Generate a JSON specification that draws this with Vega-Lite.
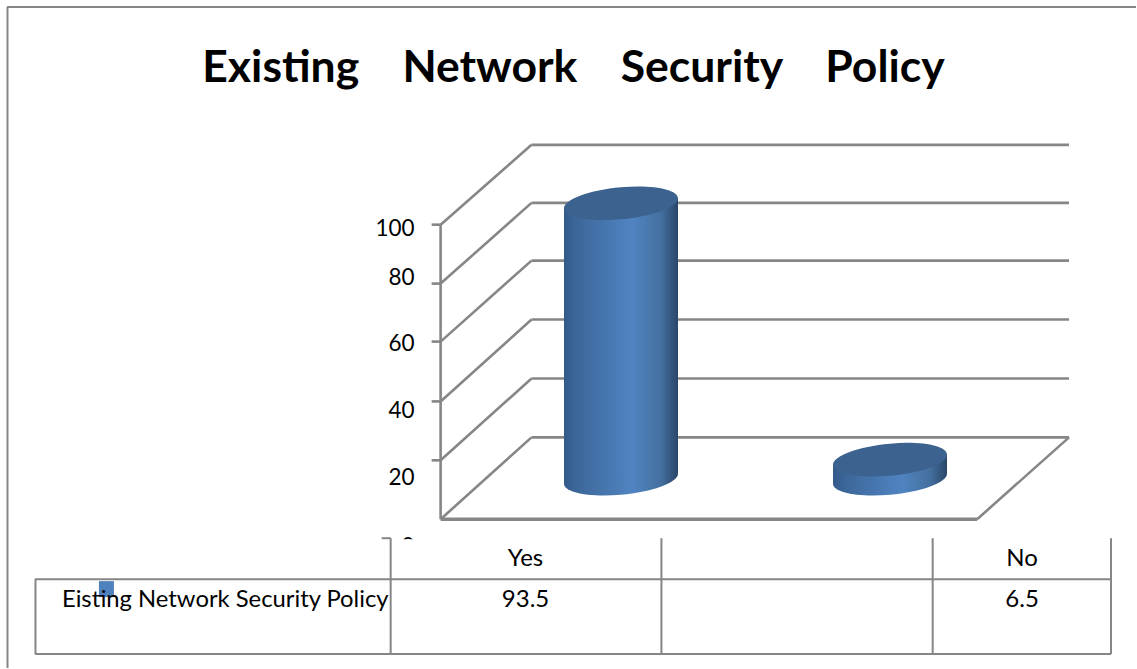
{
  "$schema": "https://vega.github.io/schema/vega-lite/v6.json",
  "width": 1137,
  "height": 669,
  "padding": 0,
  "autosize": {"type": "fit", "contains": "padding"},
  "background": "white",
  "config": {"view": {"stroke": null}, "text": {"font": "Lato"}},
  "resolve": {"scale": {"x": "independent", "y": "independent"}},
  "datasets": {
    "results": [
      {"answer": "Yes", "percent": 93.5},
      {"answer": "No", "percent": 6.5}
    ],
    "wall": [
      {"x": 441, "x2": 532, "level": 100, "level2": 127.1},
      {"x": 532, "x2": 1070, "level": 127.1, "level2": 127.1},
      {"x": 441, "x2": 532, "level": 80, "level2": 107.4},
      {"x": 532, "x2": 1070, "level": 107.4, "level2": 107.4},
      {"x": 441, "x2": 532, "level": 60.3, "level2": 87.8},
      {"x": 532, "x2": 1070, "level": 87.8, "level2": 87.8},
      {"x": 441, "x2": 532, "level": 40, "level2": 67.8},
      {"x": 532, "x2": 1070, "level": 67.8, "level2": 67.8},
      {"x": 441, "x2": 532, "level": 20, "level2": 47.8},
      {"x": 532, "x2": 1070, "level": 47.8, "level2": 47.8},
      {"x": 441, "x2": 532, "level": 0, "level2": 27.8},
      {"x": 532, "x2": 1070, "level": 27.8, "level2": 27.8},
      {"x": 978, "x2": 1070, "level": 0, "level2": 27.8},
      {"x": 441, "x2": 441, "level": 0, "level2": 100},
      {"x": 432, "x2": 441, "level": 100, "level2": 100},
      {"x": 432, "x2": 441, "level": 80, "level2": 80},
      {"x": 432, "x2": 441, "level": 60.3, "level2": 60.3},
      {"x": 432, "x2": 441, "level": 40, "level2": 40},
      {"x": 432, "x2": 441, "level": 20, "level2": 20}
    ],
    "floorEdge": [
      {"x": 441, "x2": 978, "level": 0, "level2": 0}
    ],
    "axisLabels": [
      {"label": "100", "x": 415, "y": 229},
      {"label": "80", "x": 415, "y": 278},
      {"label": "60", "x": 415, "y": 345},
      {"label": "40", "x": 415, "y": 412},
      {"label": "20", "x": 415, "y": 479},
      {"label": "0", "x": 415, "y": 548}
    ],
    "tableRules": [
      {"x": 35, "x2": 1112, "y": 580, "y2": 580},
      {"x": 35, "x2": 1112, "y": 655, "y2": 655},
      {"x": 35.5, "x2": 35.5, "y": 580, "y2": 655},
      {"x": 391, "x2": 391, "y": 539, "y2": 655},
      {"x": 382, "x2": 391, "y": 539, "y2": 539},
      {"x": 662, "x2": 662, "y": 539, "y2": 655},
      {"x": 933.5, "x2": 933.5, "y": 539, "y2": 655},
      {"x": 1112, "x2": 1112, "y": 539, "y2": 655},
      {"x": 7.5, "x2": 7.5, "y": 7, "y2": 669},
      {"x": 7, "x2": 1137, "y": 7, "y2": 7}
    ],
    "tableText": [
      {"label": "Yes", "x": 526, "y": 560},
      {"label": "No", "x": 1023, "y": 560},
      {"label": "93.5", "x": 526, "y": 601},
      {"label": "6.5", "x": 1023, "y": 601}
    ]
  },
  "layer": [
    {
      "data": {"name": "wall"},
      "mark": {"type": "rule", "color": "#868686", "strokeWidth": 2.6},
      "encoding": {
        "x": {"field": "x", "type": "quantitative", "axis": null, "scale": {"domain": [0, 1137], "zero": false, "nice": false}},
        "x2": {"field": "x2"},
        "y": {"field": "level", "type": "quantitative", "axis": null, "scale": {"domain": [-50.5, 176.27], "zero": false, "nice": false}},
        "y2": {"field": "level2"}
      }
    },
    {
      "data": {"name": "floorEdge"},
      "mark": {"type": "rule", "color": "#868686", "strokeWidth": 3.4},
      "encoding": {
        "x": {"field": "x", "type": "quantitative", "axis": null, "scale": {"domain": [0, 1137], "zero": false, "nice": false}},
        "x2": {"field": "x2"},
        "y": {"field": "level", "type": "quantitative", "axis": null, "scale": {"domain": [-50.5, 176.27], "zero": false, "nice": false}},
        "y2": {"field": "level2"}
      }
    },
    {
      "description": "Cylinder base",
      "data": {"name": "results"},
      "mark": {
        "type": "point", "filled": true, "opacity": 1, "size": 12996,
        "shape": "M1 -0.0877C1 0.0674 0.5523 0.2323 0 0.2807C-0.5523 0.3291 -1 0.2427 -1 0.0877C-1 -0.0673 -0.5523 -0.2323 0 -0.2807C0.5523 -0.3291 1 -0.2427 1 -0.0877Z",
        "fill": {"x1": 0, "y1": 0, "x2": 1, "y2": 0, "gradient": "linear", "stops": [
          {"offset": 0, "color": "#33598a"}, {"offset": 0.1, "color": "#3b6699"}, {"offset": 0.6, "color": "#5084c1"}, {"offset": 0.85, "color": "#44709f"}, {"offset": 1, "color": "#2a4668"}
        ]}
      },
      "encoding": {
        "x": {"field": "answer", "type": "nominal", "axis": null, "scale": {"type": "point", "padding": 0, "domain": ["Yes", "No"], "range": [621, 890]}},
        "y": {"datum": 0, "type": "quantitative", "axis": null, "scale": {"domain": [-64.24, 162.54], "zero": false, "nice": false}}
      }
    },
    {
      "description": "Cylinder body, left half: its ends sit lower because the ellipses tilt",
      "data": {"name": "results"},
      "mark": {
        "type": "bar", "width": 57, "xOffset": -28.5, "yOffset": 5, "y2Offset": 5,
        "fill": {"x1": 0, "y1": 0, "x2": 1, "y2": 0, "gradient": "linear", "stops": [
          {"offset": 0, "color": "#33598a"}, {"offset": 0.2, "color": "#3b6699"}, {"offset": 1, "color": "#4c7eba"}
        ]}
      },
      "encoding": {
        "x": {"field": "answer", "type": "nominal", "axis": null, "scale": {"type": "point", "padding": 0, "domain": ["Yes", "No"], "range": [621, 890]}},
        "y": {"field": "percent", "type": "quantitative", "axis": null, "scale": {"domain": [-64.24, 162.54], "zero": false, "nice": false}},
        "y2": {"datum": 0}
      }
    },
    {
      "description": "Cylinder body, right half: its ends sit higher",
      "data": {"name": "results"},
      "mark": {
        "type": "bar", "width": 57, "xOffset": 28.5, "yOffset": -5, "y2Offset": -5,
        "fill": {"x1": 0, "y1": 0, "x2": 1, "y2": 0, "gradient": "linear", "stops": [
          {"offset": 0, "color": "#4c7eba"}, {"offset": 0.2, "color": "#5084c1"}, {"offset": 0.7, "color": "#44709f"}, {"offset": 1, "color": "#2a4668"}
        ]}
      },
      "encoding": {
        "x": {"field": "answer", "type": "nominal", "axis": null, "scale": {"type": "point", "padding": 0, "domain": ["Yes", "No"], "range": [621, 890]}},
        "y": {"field": "percent", "type": "quantitative", "axis": null, "scale": {"domain": [-64.24, 162.54], "zero": false, "nice": false}},
        "y2": {"datum": 0}
      }
    },
    {
      "description": "Cylinder top",
      "data": {"name": "results"},
      "mark": {
        "type": "point", "filled": true, "opacity": 1, "size": 12996, "color": "#3c628f",
        "shape": "M1 -0.0877C1 0.0674 0.5523 0.2323 0 0.2807C-0.5523 0.3291 -1 0.2427 -1 0.0877C-1 -0.0673 -0.5523 -0.2323 0 -0.2807C0.5523 -0.3291 1 -0.2427 1 -0.0877Z"
      },
      "encoding": {
        "x": {"field": "answer", "type": "nominal", "axis": null, "scale": {"type": "point", "padding": 0, "domain": ["Yes", "No"], "range": [621, 890]}},
        "y": {"field": "percent", "type": "quantitative", "axis": null, "scale": {"domain": [-64.24, 162.54], "zero": false, "nice": false}}
      }
    },
    {
      "data": {"name": "axisLabels"},
      "mark": {"type": "text", "align": "right", "baseline": "middle", "fontSize": 22.5, "color": "#000000"},
      "encoding": {
        "x": {"field": "x", "type": "quantitative", "axis": null, "scale": {"domain": [0, 1137], "zero": false, "nice": false}},
        "y": {"field": "y", "type": "quantitative", "axis": null, "scale": {"domain": [669, 0], "zero": false, "nice": false}},
        "text": {"field": "label"}
      }
    },
    {
      "description": "Table header band that cuts off the lowest axis label",
      "data": {"values": [{"x": 395, "x2": 430, "y": 540, "y2": 560}]},
      "mark": {"type": "rect", "color": "white"},
      "encoding": {
        "x": {"field": "x", "type": "quantitative", "axis": null, "scale": {"domain": [0, 1137], "zero": false, "nice": false}},
        "x2": {"field": "x2"},
        "y": {"field": "y", "type": "quantitative", "axis": null, "scale": {"domain": [669, 0], "zero": false, "nice": false}},
        "y2": {"field": "y2"}
      }
    },
    {
      "data": {"name": "tableRules"},
      "mark": {"type": "rule", "color": "#868686", "strokeWidth": 2},
      "encoding": {
        "x": {"field": "x", "type": "quantitative", "axis": null, "scale": {"domain": [0, 1137], "zero": false, "nice": false}},
        "x2": {"field": "x2"},
        "y": {"field": "y", "type": "quantitative", "axis": null, "scale": {"domain": [669, 0], "zero": false, "nice": false}},
        "y2": {"field": "y2"}
      }
    },
    {
      "description": "Legend key",
      "data": {"values": [{"x": 99, "x2": 114, "y": 582, "y2": 598}]},
      "mark": {"type": "rect", "color": "#4f81bd"},
      "encoding": {
        "x": {"field": "x", "type": "quantitative", "axis": null, "scale": {"domain": [0, 1137], "zero": false, "nice": false}},
        "x2": {"field": "x2"},
        "y": {"field": "y", "type": "quantitative", "axis": null, "scale": {"domain": [669, 0], "zero": false, "nice": false}},
        "y2": {"field": "y2"}
      }
    },
    {
      "data": {"name": "tableText"},
      "mark": {"type": "text", "align": "center", "baseline": "middle", "fontSize": 24, "color": "#000000"},
      "encoding": {
        "x": {"field": "x", "type": "quantitative", "axis": null, "scale": {"domain": [0, 1137], "zero": false, "nice": false}},
        "y": {"field": "y", "type": "quantitative", "axis": null, "scale": {"domain": [669, 0], "zero": false, "nice": false}},
        "text": {"field": "label"}
      }
    },
    {
      "data": {"values": [{"label": "Eisting Network Security Policy", "x": 62, "y": 601}]},
      "mark": {"type": "text", "align": "left", "baseline": "middle", "fontSize": 23.8, "color": "#000000"},
      "encoding": {
        "x": {"field": "x", "type": "quantitative", "axis": null, "scale": {"domain": [0, 1137], "zero": false, "nice": false}},
        "y": {"field": "y", "type": "quantitative", "axis": null, "scale": {"domain": [669, 0], "zero": false, "nice": false}},
        "text": {"field": "label"}
      }
    },
    {
      "data": {"values": [{"label": "Existing\u00a0\u00a0\u00a0\u00a0Network\u00a0\u00a0\u00a0\u00a0Security\u00a0\u00a0\u00a0\u00a0Policy", "x": 574, "y": 69}]},
      "mark": {"type": "text", "align": "center", "baseline": "middle", "fontSize": 44.5, "fontWeight": "bold", "color": "#000000"},
      "encoding": {
        "x": {"field": "x", "type": "quantitative", "axis": null, "scale": {"domain": [0, 1137], "zero": false, "nice": false}},
        "y": {"field": "y", "type": "quantitative", "axis": null, "scale": {"domain": [669, 0], "zero": false, "nice": false}},
        "text": {"field": "label"}
      }
    }
  ]
}
